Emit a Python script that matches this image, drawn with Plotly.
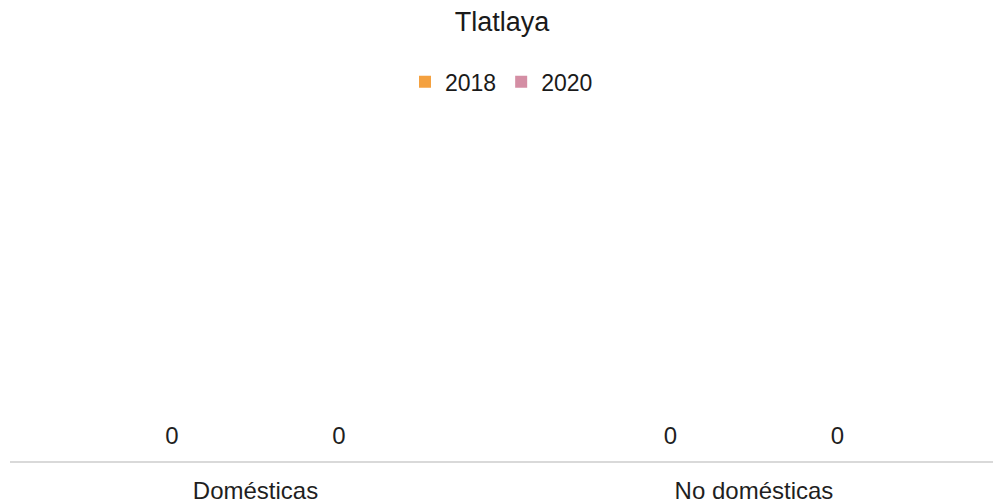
import plotly.graph_objects as go

categories = ["Domésticas", "No domésticas"]
series_names = ["2018", "2020"]
values_2018 = [0, 0]
values_2020 = [0, 0]
colors = ["#F4A140", "#D48EA4"]

FONT = "Liberation Sans, Arial"

fig = go.Figure()
for name, vals, col in zip(series_names, [values_2018, values_2020], colors):
    fig.add_trace(go.Bar(
        x=categories, y=vals, name=name, marker_color=col,
        marker_line_width=0,
        text=[str(v) for v in vals], textposition="outside",
        textfont=dict(family=FONT, size=24, color="#1f1f1f"),
        cliponaxis=False,
    ))

fig.update_layout(
    width=993, height=503,
    paper_bgcolor="white", plot_bgcolor="white",
    barmode="group", bargap=0.33, bargroupgap=0,
    margin=dict(l=10, r=0, t=110, b=42, autoexpand=False),
    title=dict(text="Tlatlaya", x=502 / 993, xanchor="center", xref="container",
               y=1 - 22 / 503, yanchor="middle", yref="container",
               font=dict(family=FONT, size=27, color="#1a1a1a")),
    legend=dict(orientation="h", x=0.5, xanchor="center", y=1.08, yanchor="middle",
                font=dict(family=FONT, size=23, color="#1a1a1a"),
                itemwidth=30, traceorder="normal"),
    font=dict(family=FONT),
    showlegend=True,
)
fig.update_xaxes(showline=True, linecolor="#d9d9d9", linewidth=2, showgrid=False,
                 range=[-0.4925, 1.4795],
                 ticks="outside", ticklen=7, tickcolor="rgba(0,0,0,0)",
                 tickfont=dict(family=FONT, size=24, color="#1f1f1f"))
fig.update_yaxes(visible=False, range=[-0.025, 1], showgrid=False, zeroline=False)

fig.write_html("out.html", config={"displayModeBar": False},
               post_script="document.body.style.margin='0px';")
